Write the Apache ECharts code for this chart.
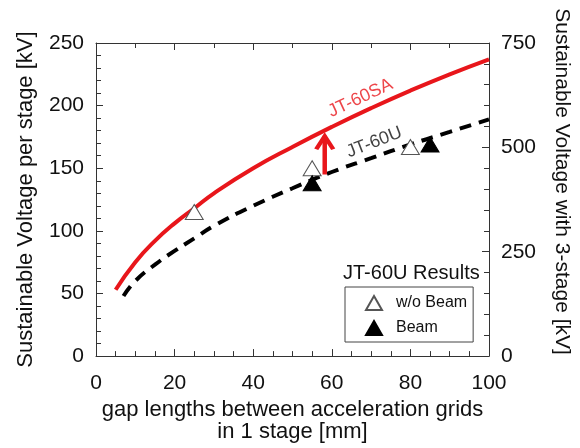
<!DOCTYPE html>
<html>
<head>
<meta charset="utf-8">
<script src="https://cdn.jsdelivr.net/npm/echarts@6/dist/echarts.min.js"></script>
<style>html,body{margin:0;padding:0;background:#fff}#c{width:580px;height:448px}</style>
</head>
<body>
<div id="c"></div>
<script>
// JT-60SA design curve (per stage, kV) vs gap length (mm)
const xSA = [5, 10, 15, 20, 25, 30, 40, 50, 60, 70, 80, 90, 100];
const ySA = [53, 75, 92, 106, 118, 130, 150, 167, 183, 198, 212, 225, 237];
// JT-60U curve
const xU = [7, 10, 15, 20, 25, 30, 40, 50, 60, 70, 80, 90, 100];
const yU = [48, 60, 73, 84, 94, 104, 120, 134, 147, 158, 169, 179, 189];
// JT-60U results
const woBeamX = [25, 55, 80];
const woBeamY = [115, 150, 167];
const beamX = [55, 85];
const beamY = [138, 169];
// arrow (x, from, to)
const arrowX = 58.2;
const arrowY = [145, 176];
// curve labels
const labelNames = ['JT-60SA', 'JT-60U'];
const labelX = [67.3, 70.8];
const labelY = [206, 170.6];
// ticks
const xTicks = [0, 20, 40, 60, 80, 100];
const yLeftTicks = [0, 50, 100, 150, 200, 250];
const yRightTicks = [0, 250, 500, 750];

const RED = '#e8161b';
const AX = '#333';
const zip = (a, b) => a.map((v, i) => [v, b[i]]);

const chart = echarts.init(document.getElementById('c'));
const font = 'Liberation Sans, Arial, sans-serif';
const axisCommon = {
  axisLine: { show: true, onZero: false, lineStyle: { color: AX, width: 1 } },
  axisTick: { show: true, inside: true, length: 7, lineStyle: { color: AX } },
  splitLine: { show: false },
  minorSplitLine: { show: false }
};
chart.setOption({
  backgroundColor: '#fff',
  animation: false,
  textStyle: { fontFamily: font },
  title: {
    text: 'JT-60U Results', left: 343, top: 263, padding: 0,
    textStyle: { fontSize: 20, fontWeight: 'normal', color: '#111', fontFamily: font }
  },
  legend: {
    data: ['w/o Beam', 'Beam'],
    orient: 'vertical', left: 345, top: 287,
    itemWidth: 16, itemHeight: 14, itemGap: 9,
    padding: [8, 6, 6, 20],
    borderColor: '#444', borderWidth: 1,
    textStyle: { fontSize: 16, color: '#111', padding: [0, 0, 0, 9], fontFamily: font },
    selectedMode: false
  },
  grid: { left: 96, right: 82, top: 43, bottom: 84 },
  xAxis: [
    Object.assign({}, axisCommon, {
      type: 'value', min: 0, max: 100, interval: 20, position: 'bottom',
      minorTick: { show: true, splitNumber: 4, length: 5, lineStyle: { color: AX } },
      axisLabel: { fontSize: 21, color: '#111', margin: 17, fontFamily: font,
        formatter: v => xTicks.includes(v) ? String(v) : '' },
      name: 'gap lengths between acceleration grids\nin 1 stage [mm]',
      nameLocation: 'middle', nameGap: 41,
      nameTextStyle: { fontSize: 22, color: '#111', lineHeight: 22, fontFamily: font }
    }),
    Object.assign({}, axisCommon, {
      type: 'value', min: 0, max: 100, interval: 20, position: 'top',
      minorTick: { show: true, splitNumber: 2, length: 5, lineStyle: { color: AX } },
      axisLabel: { show: false }
    })
  ],
  yAxis: [
    Object.assign({}, axisCommon, {
      type: 'value', min: 0, max: 250, interval: 50, position: 'left',
      minorTick: { show: true, splitNumber: 5, length: 5, lineStyle: { color: AX } },
      axisLabel: { fontSize: 21, color: '#111', margin: 12, fontFamily: font,
        formatter: v => yLeftTicks.includes(v) ? String(v) : '' },
      name: 'Sustainable Voltage per stage [kV]',
      nameLocation: 'middle', nameGap: 59,
      nameTextStyle: { fontSize: 22, color: '#111', fontFamily: font }
    }),
    Object.assign({}, axisCommon, {
      type: 'value', min: 0, max: 750, interval: 250, position: 'right',
      minorTick: { show: true, splitNumber: 5, length: 5, lineStyle: { color: AX } },
      axisLabel: { fontSize: 21, color: '#111', margin: 12, fontFamily: font,
        formatter: v => yRightTicks.includes(v) ? String(v) : '' },
      name: 'Sustainable Voltage with 3-stage [kV]',
      nameLocation: 'middle', nameGap: 62, nameRotate: -90,
      nameTextStyle: { fontSize: 21, color: '#111', fontFamily: font, padding: [0, 36, 0, 0] }
    })
  ],
  series: [
    {
      name: 'JT-60U', type: 'line', smooth: true, showSymbol: false, silent: true,
      data: zip(xU, yU),
      lineStyle: { color: '#000', width: 4, type: [12, 8] }
    },
    {
      name: 'JT-60SA', type: 'line', smooth: true, showSymbol: false, silent: true,
      data: zip(xSA, ySA),
      lineStyle: { color: RED, width: 4 }
    },
    {
      name: 'arrow', type: 'line', silent: true,
      data: [
        { value: [arrowX, arrowY[0]], symbol: 'none' },
        { value: [arrowX, arrowY[1]], symbol: 'path://M0,15 L10,0 L20,15', symbolSize: [17, 13], symbolOffset: [0, 7], symbolKeepAspect: false }
      ],
      lineStyle: { color: RED, width: 4.5 },
      itemStyle: { color: 'rgba(0,0,0,0)', borderColor: RED, borderWidth: 4 },
      z: 4
    },
    {
      name: 'w/o Beam', type: 'scatter', symbol: 'triangle', symbolSize: [18, 15],
      data: zip(woBeamX, woBeamY),
      itemStyle: { color: '#fff', borderColor: '#555', borderWidth: 1, opacity: 1 },
      z: 5
    },
    {
      name: 'Beam', type: 'scatter', symbol: 'triangle', symbolSize: [18, 15],
      data: zip(beamX, beamY),
      itemStyle: { color: '#000', borderColor: '#000', borderWidth: 1, opacity: 1 },
      z: 5
    },
    {
      name: 'labels', type: 'scatter', symbolSize: 0, silent: true,
      data: labelNames.map((n, i) => ({ name: n, value: [labelX[i], labelY[i]],
        label: { color: i === 0 ? RED : '#111', rotate: i === 0 ? 25 : 21 } })),
      label: { show: true, position: 'inside', formatter: p => p.name, fontSize: 18, fontFamily: font }
    }
  ]
});
</script>
</body>
</html>
